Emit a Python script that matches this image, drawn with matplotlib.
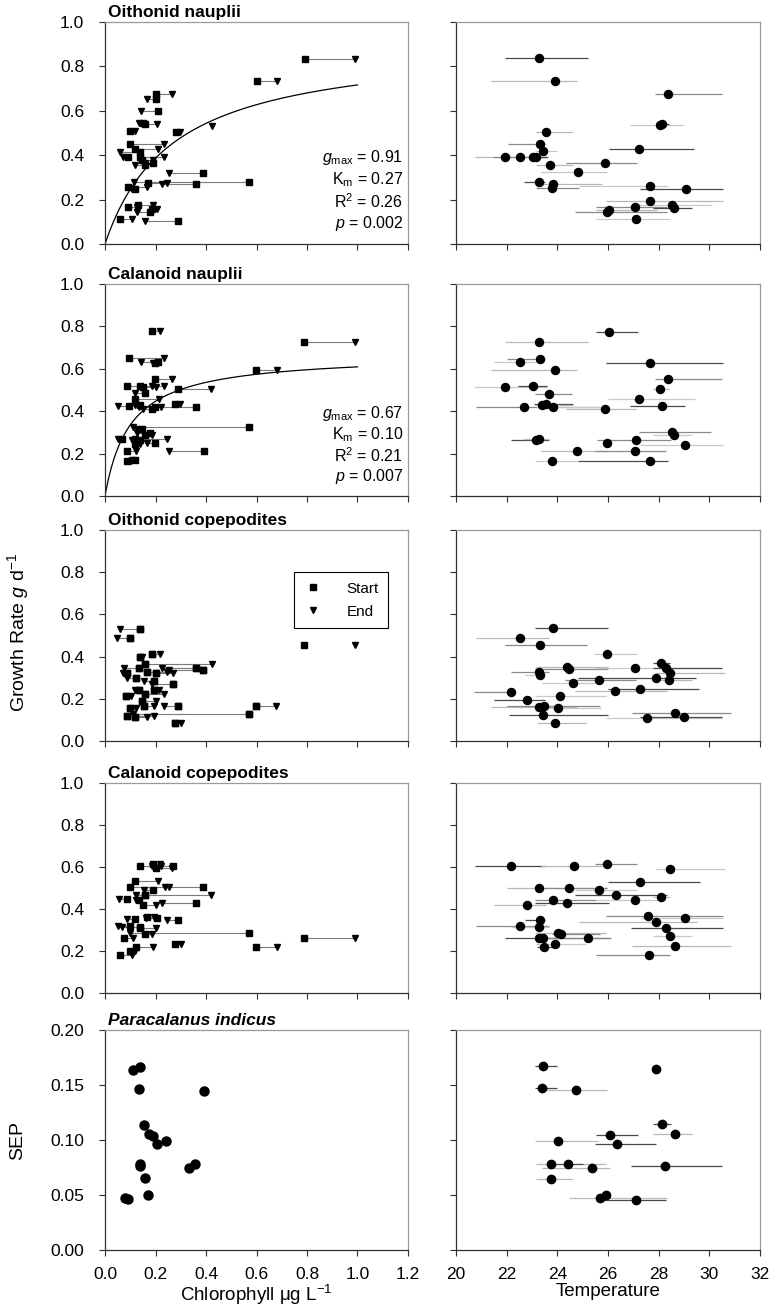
import numpy as np
import matplotlib
matplotlib.use('Agg')
import matplotlib.pyplot as plt
from matplotlib.lines import Line2D

plt.rcParams['font.family'] = ['Liberation Sans', 'DejaVu Sans']
plt.rcParams['mathtext.fontset'] = 'custom'
plt.rcParams['mathtext.rm'] = 'Liberation Sans'
plt.rcParams['mathtext.it'] = 'Liberation Sans:italic'
plt.rcParams['mathtext.bf'] = 'Liberation Sans:bold'

# ---------------- data ----------------
# chlorophyll at start / end of incubation, growth rate
on_start = [0.792, 0.600, 0.200, 0.200, 0.210, 0.160, 0.150, 0.099, 0.281, np.nan, 0.099, 0.119, 0.139, 0.090, 0.139,
            0.145, 0.158, 0.189, 0.389, 0.571, 0.169, 0.360, 0.090, 0.119, 0.090, 0.129, 0.178, 0.185, 0.059, 0.290]
on_end = [0.989, 0.682, 0.265, 0.165, 0.141, 0.204, 0.136, 0.119, 0.298, 0.423, 0.233, 0.211, 0.059, 0.073, 0.232,
          0.191, 0.119, 0.158, 0.253, 0.115, 0.247, 0.225, 0.168, 0.105, 0.125, 0.191, 0.125, 0.205, 0.107, 0.158]
on_g = [0.835, 0.734, 0.676, 0.652, 0.599, 0.539, 0.543, 0.510, 0.505, 0.533, 0.450, 0.428, 0.415, 0.391, 0.392,
        0.377, 0.355, 0.365, 0.322, 0.280, 0.276, 0.272, 0.255, 0.250, 0.165, 0.175, 0.143, 0.158, 0.113, 0.103]

cn_start = [0.188, 0.788, 0.097, 0.208, 0.199, 0.599, 0.199, 0.089, 0.139, 0.289, 0.152, 0.159, 0.119, 0.097, 0.139, 0.360,
            0.188, 0.279, 0.199, 0.570, 0.146, 0.179, 0.159, 0.066, 0.139, 0.199, 0.119, 0.119, 0.089, 0.391, 0.089, 0.119]
cn_end = [0.216, 0.989, 0.232, 0.142, 0.192, 0.682, 0.266, 0.185, 0.232, 0.421, 0.200, 0.117, 0.212, 0.053, 0.119, 0.136,
          0.152, 0.298, 0.222, 0.110, 0.125, 0.126, 0.185, 0.053, 0.106, 0.166, 0.245, 0.140, 0.123, 0.252, 0.102, 0.105]
cn_g = [0.777, 0.726, 0.649, 0.632, 0.626, 0.593, 0.553, 0.520, 0.518, 0.506, 0.512, 0.486, 0.458, 0.425, 0.428, 0.421,
        0.410, 0.436, 0.420, 0.324, 0.318, 0.296, 0.287, 0.267, 0.266, 0.250, 0.270, 0.247, 0.212, 0.211, 0.167, 0.170]

oc_start = [0.139, 0.099, 0.788, 0.139, 0.188, 0.159, 0.360, 0.387, 0.135, 0.089, 0.201, 0.168, 0.122, 0.195,
            0.268, 0.135, 0.195, 0.158, 0.085, 0.148, 0.099, 0.290, 0.155, 0.599, 0.570, 0.119, 0.089, 0.278]
oc_end = [0.058, 0.049, 0.989, 0.146, 0.217, 0.423, 0.225, 0.254, 0.075, 0.070, 0.268, 0.245, 0.089, 0.155,
          0.185, 0.118, 0.212, 0.232, 0.102, 0.201, 0.122, 0.234, 0.195, 0.678, 0.111, 0.168, 0.195, 0.301]
oc_g = [0.532, 0.487, 0.453, 0.400, 0.410, 0.365, 0.345, 0.336, 0.345, 0.320, 0.320, 0.325, 0.300, 0.285,
        0.272, 0.240, 0.240, 0.225, 0.212, 0.190, 0.155, 0.168, 0.165, 0.165, 0.128, 0.115, 0.120, 0.083]

cc_start = [0.139, 0.189, 0.269, 0.200, 0.119, 0.099, 0.387, 0.189, 0.159, 0.159, 0.089, 0.136, 0.149, 0.360, 0.119,
            0.206, 0.289, 0.165, 0.099, 0.139, 0.139, 0.569, 0.159, 0.076, 0.789, 0.123, 0.279, 0.599, 0.099, 0.059]
cc_end = [0.187, 0.219, 0.221, 0.267, 0.209, 0.236, 0.252, 0.156, 0.420, 0.123, 0.056, 0.123, 0.203, 0.225, 0.089,
          0.163, 0.245, 0.193, 0.050, 0.069, 0.203, 0.100, 0.187, 0.109, 0.989, 0.189, 0.300, 0.680, 0.120, 0.107]
cc_g = [0.605, 0.615, 0.605, 0.595, 0.533, 0.505, 0.505, 0.490, 0.465, 0.465, 0.447, 0.444, 0.420, 0.430, 0.352,
        0.355, 0.350, 0.360, 0.318, 0.315, 0.310, 0.287, 0.280, 0.262, 0.264, 0.220, 0.233, 0.220, 0.200, 0.182]

pi_chl = [0.112, 0.139, 0.136, 0.393, 0.156, 0.175, 0.189, 0.204, 0.241, 0.140, 0.140, 0.334, 0.356, 0.158, 0.169, 0.079, 0.090]
pi_sep = [0.1636, 0.1667, 0.1467, 0.1448, 0.1139, 0.1052, 0.1039, 0.0961, 0.0991, 0.0779, 0.0761, 0.0748, 0.0779,
          0.0652, 0.0500, 0.0476, 0.0464]

# temperature (mean, min, max) and growth rate
on_t = [23.27, 23.92, 28.36, 28.06, 28.15, 23.56, 23.31, 23.43, 27.21, 21.94, 22.54, 23.04, 23.17, 23.71, 25.90, 24.81,
        23.29, 23.82, 23.78, 27.66, 29.07, 27.67, 27.06, 28.54, 28.61, 26.02, 25.95, 27.11]
on_tlo = [21.94, 21.39, 27.87, 26.87, 27.90, 23.17, 22.05, 23.10, 26.02, 20.76, 21.48, 22.90, 23.00, 23.14, 24.35, 23.36,
          22.70, 23.14, 23.14, 24.84, 27.27, 25.91, 25.52, 27.20, 27.79, 25.52, 24.68, 25.53]
on_thi = [25.20, 24.77, 30.49, 29.00, 28.40, 24.61, 23.52, 23.98, 29.41, 23.63, 23.63, 23.40, 23.60, 24.61, 27.14, 25.97,
          23.52, 25.76, 24.84, 28.36, 30.53, 30.53, 28.32, 30.05, 29.33, 27.92, 28.32, 28.45]
on_tg = [0.838, 0.736, 0.676, 0.536, 0.541, 0.506, 0.450, 0.417, 0.429, 0.392, 0.392, 0.392, 0.392, 0.355, 0.365, 0.324,
         0.280, 0.269, 0.252, 0.263, 0.250, 0.193, 0.167, 0.176, 0.160, 0.154, 0.145, 0.113]

cn_t = [26.02, 23.28, 23.31, 22.53, 27.67, 23.90, 28.35, 21.92, 23.02, 28.07, 23.69, 27.21, 23.54, 23.40, 22.67,
        23.82, 28.15, 25.89, 28.54, 28.60, 23.15, 23.27, 27.10, 29.05, 25.95, 24.79, 27.05, 23.77, 27.67]
cn_tlo = [25.52, 21.92, 22.02, 21.49, 25.91, 21.39, 27.87, 20.73, 22.45, 27.78, 23.13, 25.99, 23.08, 23.10, 20.79,
          23.16, 26.88, 24.34, 27.24, 27.78, 22.16, 22.70, 25.56, 27.25, 25.90, 23.37, 25.49, 23.13, 24.83]
cn_thi = [27.17, 25.20, 23.50, 23.48, 30.54, 24.76, 30.49, 23.61, 23.61, 28.40, 24.59, 29.43, 24.60, 24.62, 25.69,
          25.75, 29.02, 27.12, 30.07, 29.33, 23.68, 23.68, 28.47, 30.54, 26.00, 25.95, 28.27, 24.83, 28.36]
cn_tg = [0.774, 0.726, 0.647, 0.634, 0.626, 0.593, 0.550, 0.516, 0.517, 0.503, 0.481, 0.457, 0.435, 0.427, 0.420,
         0.420, 0.423, 0.409, 0.300, 0.290, 0.265, 0.270, 0.263, 0.240, 0.248, 0.210, 0.210, 0.164, 0.167]

oc_t = [23.83, 22.51, 23.30, 25.96, 28.10, 24.40, 24.47, 27.07, 28.27, 28.44, 23.28, 23.32, 27.90, 28.42, 25.65,
        24.63, 27.26, 26.29, 22.19, 24.12, 22.79, 23.27, 23.47, 24.04, 23.43, 23.91, 28.63, 27.55, 29.00]
oc_tlo = [23.10, 20.80, 21.95, 25.45, 27.78, 23.10, 23.10, 25.49, 27.78, 27.84, 22.17, 22.73, 24.83, 28.02, 24.32,
          23.39, 26.01, 24.69, 20.73, 23.12, 21.50, 21.40, 22.03, 23.12, 22.09, 23.19, 26.94, 25.92, 27.25]
oc_thi = [26.01, 23.68, 25.19, 27.15, 28.44, 26.01, 26.00, 30.50, 30.50, 30.60, 23.68, 23.52, 29.48, 29.31, 27.11,
          25.78, 29.60, 28.31, 22.20, 25.92, 23.52, 24.76, 25.69, 25.71, 26.01, 25.12, 30.84, 30.50, 30.50]
oc_tg = [0.534, 0.487, 0.455, 0.412, 0.368, 0.350, 0.339, 0.345, 0.345, 0.322, 0.325, 0.315, 0.298, 0.290, 0.288,
         0.273, 0.246, 0.238, 0.230, 0.214, 0.193, 0.163, 0.168, 0.157, 0.122, 0.086, 0.133, 0.111, 0.114]

cc_t = [22.19, 24.64, 25.95, 28.44, 27.28, 23.28, 24.47, 25.66, 26.30, 28.11, 23.84, 27.08, 24.40, 22.80, 27.56, 29.02,
        23.32, 27.91, 22.52, 23.28, 28.28, 24.04, 24.13, 28.43, 23.28, 23.44, 25.20, 23.91, 23.46, 28.64, 27.60]
cc_tlo = [20.76, 23.37, 25.47, 27.88, 26.01, 22.03, 23.17, 24.71, 24.71, 27.79, 23.13, 25.51, 23.13, 21.50, 25.91, 27.29,
          22.73, 24.84, 20.80, 22.17, 26.89, 23.13, 23.80, 27.79, 21.93, 23.30, 23.37, 23.17, 23.20, 26.94, 25.52]
cc_thi = [23.50, 25.78, 27.16, 30.60, 29.62, 25.98, 25.98, 27.14, 28.32, 28.45, 25.51, 28.25, 26.02, 23.55, 30.53, 30.53,
          23.50, 29.50, 23.67, 23.67, 30.53, 25.91, 25.70, 29.32, 26.07, 24.20, 26.10, 25.15, 23.80, 30.86, 28.45]
cc_tg = [0.605, 0.603, 0.616, 0.589, 0.529, 0.502, 0.502, 0.490, 0.467, 0.459, 0.444, 0.444, 0.429, 0.421, 0.365, 0.356,
         0.346, 0.340, 0.317, 0.313, 0.311, 0.286, 0.283, 0.270, 0.263, 0.263, 0.262, 0.233, 0.220, 0.222, 0.183]

pi_t = [23.43, 27.89, 23.38, 24.75, 28.13, 28.63, 26.06, 24.02, 26.34, 23.76, 24.43, 25.35, 28.26, 23.75, 25.94, 25.70, 27.10]
pi_tlo = [23.10, 27.80, 23.10, 23.39, 27.78, 27.78, 25.52, 23.13, 25.48, 23.15, 23.80, 23.39, 26.89, 23.15, 25.90, 24.48, 25.72]
pi_thi = [23.99, 28.00, 23.99, 25.96, 28.47, 29.33, 27.18, 25.61, 27.91, 25.92, 25.00, 26.08, 30.50, 24.61, 26.00, 28.31, 28.28]
pi_tsep = [0.1677, 0.1644, 0.1473, 0.1452, 0.1141, 0.1054, 0.1042, 0.0991, 0.0961, 0.0781, 0.0781, 0.0749, 0.0763,
           0.0650, 0.0503, 0.0470, 0.0458]

titles = ['Oithonid nauplii', 'Calanoid nauplii', 'Oithonid copepodites', 'Calanoid copepodites']
fits = {0: (0.91, 0.27, '0.26', '0.002'), 1: (0.67, 0.10, '0.21', '0.007')}

# ---------------- layout ----------------
W, H = 783, 1310
fig = plt.figure(figsize=(W / 100, H / 100), dpi=100)
rows_px = [(22, 244), (284, 496), (530, 741), (783, 993), (1030, 1250)]
left_px = (105, 408)
right_px = (456, 760)


def make_ax(xpx, ypx):
    ax = fig.add_axes([xpx[0] / W, 1 - ypx[1] / H, (xpx[1] - xpx[0]) / W, (ypx[1] - ypx[0]) / H])
    for s in ['top', 'right']:
        ax.spines[s].set_color('#9a9a9a')
    for s in ['left', 'bottom']:
        ax.spines[s].set_color('#303030')
    for s in ax.spines.values():
        s.set_linewidth(0.9)
    ax.tick_params(direction='out', length=4, width=0.8, colors='#303030', labelsize=12.5, labelcolor='black')
    ax.tick_params(axis='y', pad=11)
    ax.tick_params(axis='x', pad=8)
    return ax


def chl_panel(ax, start, end, g):
    start = np.array(start)
    end = np.array(end)
    g = np.array(g)
    ok = ~np.isnan(start)
    ax.hlines(g[ok], start[ok], end[ok], colors='#7a7a7a', linewidth=0.8, zorder=1)
    ax.plot(start, g, 's', color='black', ms=4, zorder=3)
    ax.plot(end, g, 'v', color='black', ms=4.5, zorder=3)


def temp_panel(ax, t, lo, hi, g):
    shades = ['#4a4a4a', '#b8b8b8', '#8a8a8a', '#c8c8c8']
    for i in range(len(t)):
        ax.hlines(g[i], lo[i], hi[i], colors=shades[i % len(shades)], linewidth=0.9, zorder=1)
    ax.plot(t, g, 'o', color='black', ms=5.8, zorder=3)


data_left = [(on_start, on_end, on_g), (cn_start, cn_end, cn_g), (oc_start, oc_end, oc_g), (cc_start, cc_end, cc_g)]
data_right = [(on_t, on_tlo, on_thi, on_tg), (cn_t, cn_tlo, cn_thi, cn_tg), (oc_t, oc_tlo, oc_thi, oc_tg),
              (cc_t, cc_tlo, cc_thi, cc_tg)]

for r in range(4):
    axl = make_ax(left_px, rows_px[r])
    axr = make_ax(right_px, rows_px[r])
    if r == 2:
        # the high-chlorophyll pair in this panel has no visible connector
        s, e, g = data_left[r]
        s2 = [np.nan if x > 0.7 else x for x in s]
        chl_panel(axl, s2, e, g)
        axl.plot(s, g, 's', color='black', ms=4, zorder=3)
    else:
        chl_panel(axl, *data_left[r])
    temp_panel(axr, *data_right[r])
    for ax, lim, step in [(axl, (0, 1.2), 0.2), (axr, (20, 32), 2)]:
        ax.set_xlim(*lim)
        ax.set_ylim(0, 1.0)
        ax.set_xticks(np.arange(lim[0], lim[1] + 0.001, step))
        ax.set_yticks(np.arange(0, 1.01, 0.2))
        ax.set_xticklabels([])
    axl.set_yticklabels(['%.1f' % v for v in np.arange(0, 1.01, 0.2)])
    axr.set_yticklabels([])
    axl.text(0.01, 1.008, titles[r], transform=axl.transAxes, fontsize=12.5, fontweight='bold',
             ha='left', va='bottom')
    if r in fits:
        gmax, km, r2, p = fits[r]
        c = np.linspace(0, 1.0, 200)
        axl.plot(c, gmax * c / (km + c), color='black', lw=0.9, zorder=2)
        lines = [r'$g_{\rm max}$ = %.2f' % gmax, r'K$_{\rm m}$ = %.2f' % km, r'R$^2$ = ' + r2, r'$p$ = ' + p]
        for k, txt in enumerate(lines):
            axl.text(0.985, 0.388 - k * 0.098, txt, transform=axl.transAxes, fontsize=11.5, ha='right', va='center')
    if r == 2:
        handles = [Line2D([], [], marker='s', ls='none', color='black', ms=4),
                   Line2D([], [], marker='v', ls='none', color='black', ms=4.5)]
        leg = axl.legend(handles, ['Start', 'End'], loc='upper left', bbox_to_anchor=(0.60, 0.835),
                         fontsize=11, frameon=True, fancybox=False, edgecolor='black', framealpha=1,
                         borderpad=0.6, handletextpad=1.6, labelspacing=0.6, handlelength=1.2)
        leg.get_frame().set_linewidth(0.8)

# bottom row: SEP of Paracalanus indicus
axl = make_ax(left_px, rows_px[4])
axr = make_ax(right_px, rows_px[4])
axl.plot(pi_chl, pi_sep, 'o', color='black', ms=6.5)
for i in range(len(pi_t)):
    axr.hlines(pi_tsep[i], pi_tlo[i], pi_thi[i], colors=['#4a4a4a', '#b8b8b8'][i % 2], linewidth=0.9, zorder=1)
axr.plot(pi_t, pi_tsep, 'o', color='black', ms=6, zorder=3)
axl.set_xlim(0, 1.2)
axr.set_xlim(20, 32)
for ax in (axl, axr):
    ax.set_ylim(0, 0.20)
    ax.set_yticks(np.arange(0, 0.201, 0.05))
axl.set_yticklabels(['%.2f' % v for v in np.arange(0, 0.201, 0.05)])
axr.set_yticklabels([])
axl.set_xticks(np.arange(0, 1.21, 0.2))
axl.set_xticklabels(['%.1f' % v for v in np.arange(0, 1.21, 0.2)])
axr.set_xticks(np.arange(20, 33, 2))
axl.text(0.01, 1.008, 'Paracalanus indicus', transform=axl.transAxes, fontsize=12.5, fontweight='bold',
         style='italic', ha='left', va='bottom')
axl.set_xlabel('Chlorophyll μg L$^{-1}$', fontsize=13.5, labelpad=1)
axr.set_xlabel('Temperature', fontsize=13.5, labelpad=1)

fig.text(18 / W, 1 - 632 / H, r'Growth Rate $g$ d$^{-1}$', rotation=90, ha='center', va='center', fontsize=14)
fig.text(18 / W, 1 - 1140 / H, 'SEP', rotation=90, ha='center', va='center', fontsize=14)

fig.savefig('out.png', dpi=100)
